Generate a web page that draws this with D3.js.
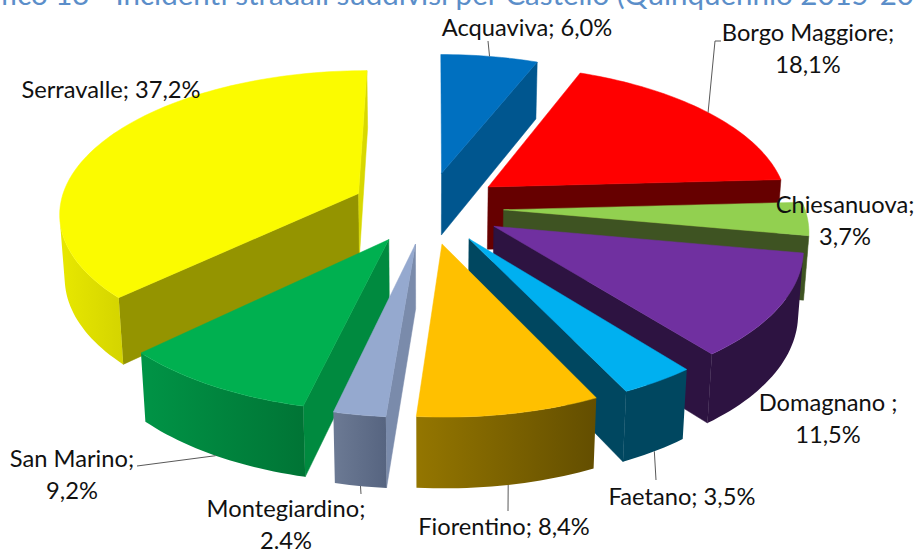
<!DOCTYPE html>
<html>
<head>
<meta charset="utf-8">
<script src="https://cdn.jsdelivr.net/npm/d3@7"></script>
<style>
    html, body { margin: 0; padding: 0; background: #fff; overflow: hidden; }
    text { font-family: Lato, "Open Sans", sans-serif; }
</style>
</head>
<body>
<div class="chart-container"></div>
<script>
const categories = ['Acquaviva', 'Borgo Maggiore', 'Chiesanuova', 'Domagnano', 'Faetano', 'Fiorentino', 'Montegiardino', 'San Marino', 'Serravalle'];
const shares = [6.0, 18.1, 3.7, 11.5, 3.5, 8.4, 2.4, 9.2, 37.2];
const labelLines = [
    ['Acquaviva; 6,0%'],
    ['Borgo Maggiore;', '18,1%'],
    ['Chiesanuova;', '3,7%'],
    ['Domagnano ;', '11,5%'],
    ['Faetano; 3,5%'],
    ['Fiorentino; 8,4%'],
    ['Montegiardino;', '2.4%'],
    ['San Marino;', '9,2%'],
    ['Serravalle; 37,2%']
];

const topColors = ['#0070c0', '#ff0000', '#92d050', '#7030a0', '#00b0f0', '#ffc000', '#95a9cf', '#00b050', '#fbfb00'];
const wallColors = ['#00568f', '#660000', '#3e5322', '#2d1341', '#004760', '#8f7200', '#7a8bab', '#008a3f', '#949400'];
const endWallColors = ['#00568f', '#660000', '#3e5322', '#2d1341', '#004760', '#8f7200', '#7a8bab', '#008a3f', '#d8d800'];
const rimColors = [
    ['#00568f', '#00568f'], ['#660000', '#660000'], ['#58762c', '#58762c'], ['#2d1341', '#2d1341'], ['#004760', '#004760'],
    ['#947600', '#634e00'], ['#6c7a94', '#566480'], ['#009446', '#007435'], ['#e8e800', '#d4d400']
];

// painter's order, back slices first
const drawOrder = [8, 0, 1, 2, 3, 4, 7, 6, 5];

const labelX = [527, 808, 845, 828, 682, 504, 286, 72, 111];
const labelY = [36, 41, 213, 411, 505, 535, 517, 467, 98];
const lineGap = 32;

// which slices have a leader, and where it ends (rim = top or bottom edge of the slice)
const leaders = [
    { slice: 0, rim: 'top', to: [[488, 41]] },
    { slice: 1, rim: 'top', to: [[715, 41], [721, 41]] },
    { slice: 4, rim: 'bottom', to: [[656, 480]] },
    { slice: 5, rim: 'bottom', to: [[508, 511]] },
    { slice: 6, rim: 'bottom', to: [[361, 494]] },
    { slice: 7, rim: 'bottom', to: [[137, 466]] }
];

const width = 917, height = 549;
const cx = 427.5, cy = 207.5;
const radius = 300, explode = 76, depth = 64;
const focal = 2400, tilt = 0.472, sink = 0.52, shear = 0.017, roll = 0.008;

const svg = d3.select('.chart-container')
    .append('svg')
    .attr('width', width)
    .attr('height', height);

const defs = svg.append('defs');

svg.append('text')
    .attr('x', -46)
    .attr('y', 5)
    .attr('fill', '#5b8ec9')
    .attr('font-size', 29.5)
    .text('Grafico 13 - Incidenti stradali suddivisi per Castello (Quinquennio 2015-2019)');

function project(x, y, z) {
    const k = focal / (focal - y + sink * z);
    return [cx + (x + shear * y) * k, cy + (y * tilt + z - roll * x) * k];
}

const pie = d3.pie().sort(null).startAngle(0.02).endAngle(0.02 + Math.PI * 2);
const arcs = pie(shares);

// each slice is pushed out along its middle angle
function rimPoint(d, a) {
    const mid = (d.startAngle + d.endAngle) / 2;
    return [explode * Math.sin(mid) + radius * Math.sin(a), -explode * Math.cos(mid) - radius * Math.cos(a)];
}
function apexPoint(d) {
    return rimPoint(d, 0).map((v, i) => v + (i == 1 ? radius : 0));
}

const poly = d3.line();

function sliceAngles(d) {
    const n = Math.max(6, Math.ceil((d.endAngle - d.startAngle) * 40));
    return d3.range(n + 1).map(i => d.startAngle + (d.endAngle - d.startAngle) * i / n);
}

const camera = [0, focal];

drawOrder.forEach(i => {
    const d = arcs[i];
    const g = svg.append('g').attr('class', 'slice').attr('data-name', categories[i]);
    const apex = apexPoint(d);
    const toCam = [camera[0] - apex[0], camera[1] - apex[1]];

    function wall(a, color) {
        const r = rimPoint(d, a);
        g.append('path')
            .attr('d', poly([
                project(apex[0], apex[1], 0),
                project(r[0], r[1], 0),
                project(r[0], r[1], depth),
                project(apex[0], apex[1], depth)
            ]) + 'Z')
            .attr('fill', color)
            .attr('stroke', color)
            .attr('stroke-width', 0.5);
    }

    // the two flat cuts, only when they face the viewer
    const a0 = d.startAngle, a1 = d.endAngle;
    if (-Math.cos(a0) * toCam[0] - Math.sin(a0) * toCam[1] > 0) wall(a0, wallColors[i]);
    if (Math.cos(a1) * toCam[0] + Math.sin(a1) * toCam[1] > 0) wall(a1, endWallColors[i]);

    // curved outer wall
    const visible = sliceAngles(d).filter(a => {
        const r = rimPoint(d, a);
        return Math.sin(a) * (camera[0] - r[0]) - Math.cos(a) * (camera[1] - r[1]) > 0;
    });
    if (visible.length > 1) {
        const upper = visible.map(a => { const r = rimPoint(d, a); return project(r[0], r[1], 0); });
        const lower = visible.map(a => { const r = rimPoint(d, a); return project(r[0], r[1], depth); }).reverse();
        const pts = upper.concat(lower);
        const id = 'rim-' + i;
        const grad = defs.append('linearGradient')
            .attr('id', id)
            .attr('gradientUnits', 'userSpaceOnUse')
            .attr('x1', d3.min(pts, p => p[0]))
            .attr('x2', d3.max(pts, p => p[0]))
            .attr('y1', 0)
            .attr('y2', 0);
        grad.append('stop').attr('offset', 0).attr('stop-color', rimColors[i][0]);
        grad.append('stop').attr('offset', 1).attr('stop-color', rimColors[i][1]);
        g.append('path').attr('d', poly(pts) + 'Z').attr('fill', 'url(#' + id + ')');
    }

    // top face
    const top = [project(apex[0], apex[1], 0)].concat(sliceAngles(d).map(a => {
        const r = rimPoint(d, a);
        return project(r[0], r[1], 0);
    }));
    g.append('path')
        .attr('d', poly(top) + 'Z')
        .attr('fill', topColors[i])
        .attr('stroke', topColors[i])
        .attr('stroke-width', 0.5);
});

leaders.forEach(l => {
    const d = arcs[l.slice];
    const r = rimPoint(d, (d.startAngle + d.endAngle) / 2);
    const from = project(r[0], r[1], l.rim == 'top' ? 0 : depth);
    svg.append('path')
        .attr('d', poly([from].concat(l.to)))
        .attr('fill', 'none')
        .attr('stroke', '#595959')
        .attr('stroke-width', 1);
});

labelLines.forEach((lines, i) => {
    lines.forEach((line, j) => {
        svg.append('text')
            .attr('x', labelX[i])
            .attr('y', labelY[i] + j * lineGap)
            .attr('text-anchor', 'middle')
            .attr('font-size', 23.7)
            .attr('fill', '#111')
            .text(line);
    });
});
</script>
</body>
</html>
